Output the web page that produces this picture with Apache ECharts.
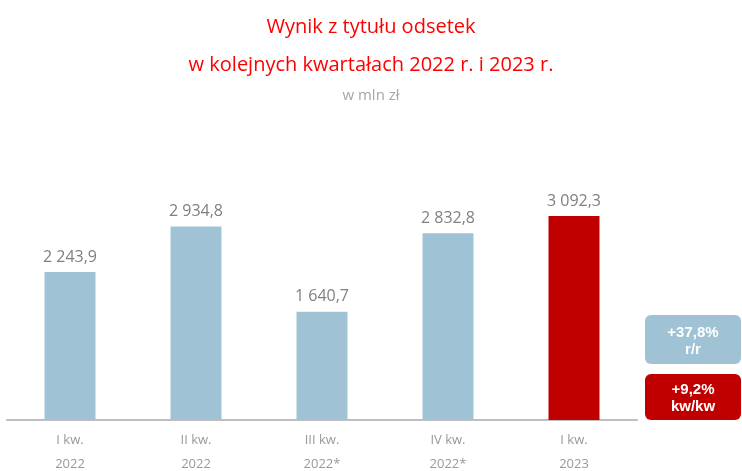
<!DOCTYPE html>
<html>
<head>
<meta charset="utf-8">
<script src="https://cdn.jsdelivr.net/npm/echarts@6/dist/echarts.min.js"></script>
<style>
html,body{margin:0;padding:0;background:#fff;}
#chart{width:742px;height:471px;}
</style>
</head>
<body>
<div id="chart"></div>
<script type="text/javascript">
    var categories = ['I kw.\n2022', 'II kw.\n2022', 'III kw.\n2022*', 'IV kw.\n2022*', 'I kw.\n2023'];
    var values = [2243.9, 2934.8, 1640.7, 2832.8, 3092.3];
    var barColors = ['#9fc3d5', '#9fc3d5', '#9fc3d5', '#9fc3d5', '#c00000'];
    var badgeTexts = ['+37,8%\nr/r', '+9,2%\nkw/kw'];

    // liczby w formacie polskim: spacja tysięcy, przecinek dziesiętny
    function fmt(v){
        var parts = v.toFixed(1).split('.');
        return parts[0].replace(/\B(?=(\d{3})+(?!\d))/g, ' ') + ',' + parts[1];
    }

    var data = [];
    for(var i = 0; i < values.length; i ++){
        data.push({value: values[i], itemStyle: {color: barColors[i]}});
    }

    var myChart = echarts.init(document.getElementById('chart'));
    var option = {
        animation: false,
        title: [{
            text: 'Wynik z tytułu odsetek\nw kolejnych kwartałach 2022 r. i 2023 r.',
            left: 'center',
            top: 3,
            textStyle: {color: '#ff0000', fontSize: 20, fontWeight: 'normal', lineHeight: 38, fontFamily: 'Open Sans'}
        }, {
            text: 'w mln zł',
            left: 'center',
            top: 83,
            textStyle: {color: '#a6a6a6', fontSize: 15, fontWeight: 'normal', fontFamily: 'Open Sans'}
        }],
        grid: {left: 7, right: 105, top: 120, bottom: 51, outerBoundsMode: 'none'},
        xAxis: {
            type: 'category',
            data: categories,
            axisLine: {lineStyle: {color: '#bfbfbf', width: 2}},
            axisTick: {show: false},
            axisLabel: {color: '#999999', fontSize: 13, lineHeight: 24, margin: 8, fontFamily: 'Open Sans'}
        },
        yAxis: {
            type: 'value',
            min: 0,
            max: 4550,
            show: false,
            splitLine: {show: false}
        },
        series: [{
            type: 'bar',
            data: data,
            barWidth: 51,
            label: {
                show: true,
                position: 'top',
                distance: 7,
                color: '#808080',
                fontSize: 16,
                fontFamily: 'Open Sans',
                formatter: function(p){ return fmt(p.value); }
            }
        }],
        graphic: [{
            type: 'group',
            left: 645,
            top: 315,
            children: [{
                type: 'rect',
                shape: {x: 0, y: 0, width: 96, height: 49, r: 6},
                style: {fill: '#9fc3d5'}
            }, {
                type: 'text',
                x: 48, y: 26,
                style: {text: badgeTexts[0], fill: '#fff', font: 'bold 15px "Liberation Sans"', align: 'center', verticalAlign: 'middle', lineHeight: 17}
            }]
        }, {
            type: 'group',
            left: 645,
            top: 374,
            children: [{
                type: 'rect',
                shape: {x: 0, y: 0, width: 96, height: 46, r: 6},
                style: {fill: '#c00000'}
            }, {
                type: 'text',
                x: 48, y: 24,
                style: {text: badgeTexts[1], fill: '#fff', font: 'bold 15px "Liberation Sans"', align: 'center', verticalAlign: 'middle', lineHeight: 17}
            }]
        }]
    };
    myChart.setOption(option);
</script>
</body>
</html>
